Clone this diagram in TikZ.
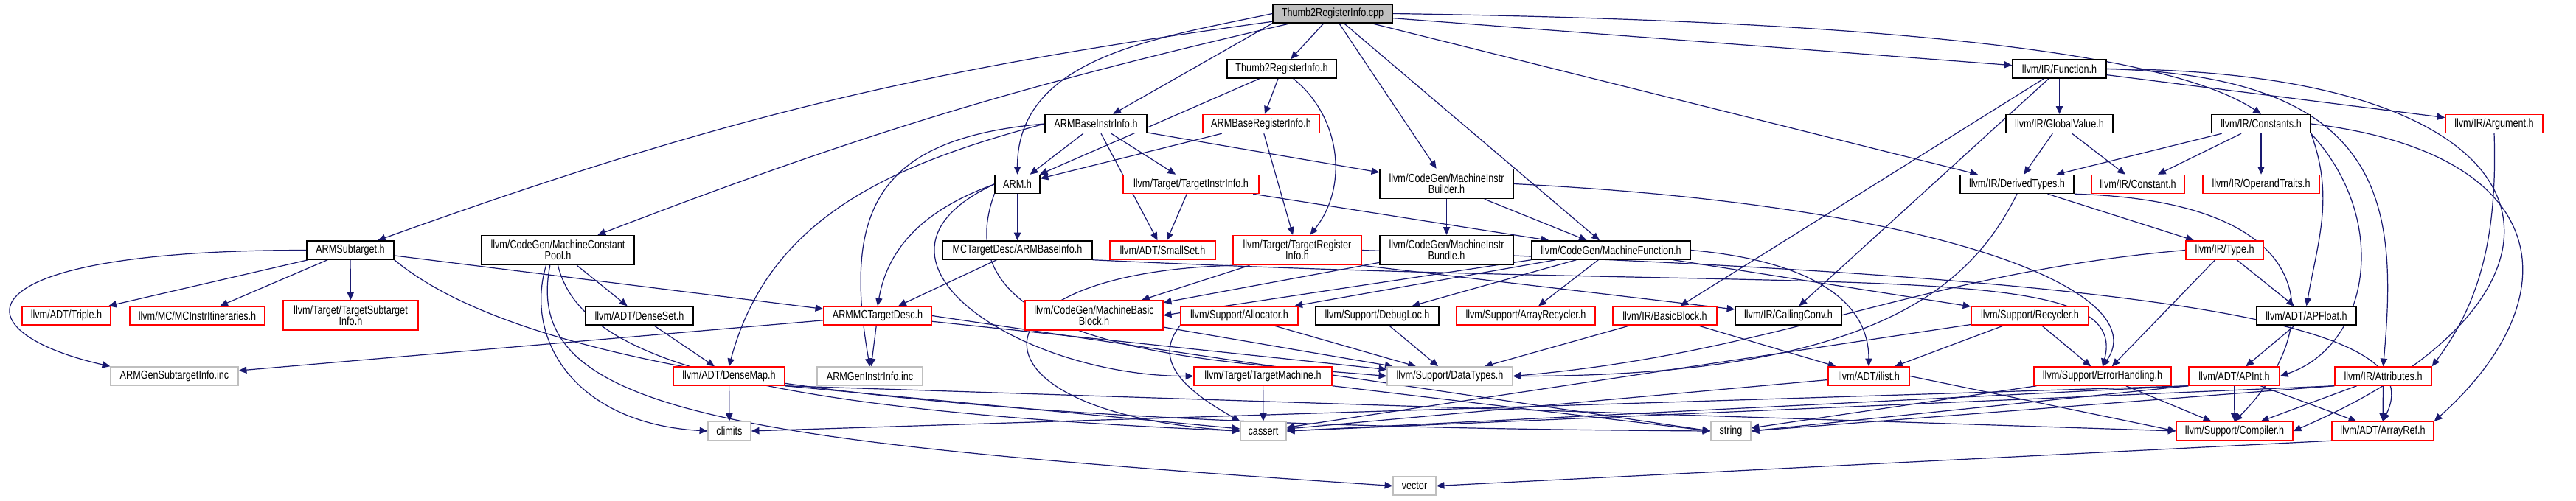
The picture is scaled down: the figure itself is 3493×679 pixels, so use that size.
\documentclass[tikz,border=0pt]{standalone}
\usepackage{fontspec}
\setmainfont{Liberation Sans}[FakeStretch=0.79]
\usepackage{tikz}
\usetikzlibrary{arrows.meta}
\definecolor{edgeblue}{RGB}{25,25,112}
\definecolor{hdrred}{RGB}{255,0,0}
\definecolor{sysgrey}{RGB}{191,191,191}
\definecolor{rootfill}{RGB}{191,191,191}
\pgfdeclarelayer{edges}
\pgfsetlayers{edges,main}
\tikzset{
  hdr/.style={rectangle, draw=black, fill=white, line width=1.1pt, align=center,
    minimum height=18.75pt, inner xsep=2pt, inner ysep=1pt,
    font=\fontsize{12pt}{11.5pt}\selectfont},
  redhdr/.style={hdr, draw=hdrred},
  syshdr/.style={hdr, draw=sysgrey},
  roothdr/.style={hdr, fill=rootfill},
  wd/.style={minimum width=#1*0.75pt},
  tall/.style={minimum height=30pt},
  dep/.style={-{Triangle[length=8pt,width=7pt]}, line width=0.9pt, color=edgeblue}
}

\begin{document}
\begin{tikzpicture}[x=0.75pt, y=-0.75pt]
  \useasboundingbox (0,0) rectangle (3493,679);
  \node[roothdr, wd=162] (root) at (1807,18.5) {Thumb2RegisterInfo.cpp};
  \node[hdr, wd=148] (t2h) at (1738,93.5) {Thumb2RegisterInfo.h};
  \node[hdr, wd=127] (func) at (2792.5,93.5) {llvm/IR/Function.h};
  \node[hdr, wd=138] (abii) at (1486,168) {ARMBaseInstrInfo.h};
  \node[redhdr, wd=158] (abri) at (1710,168) {ARMBaseRegisterInfo.h};
  \node[hdr, wd=145] (gv) at (2792.5,168) {llvm/IR/GlobalValue.h};
  \node[hdr, wd=134] (consts) at (3066,168) {llvm/IR/Constants.h};
  \node[redhdr, wd=132] (arg) at (3382,168) {llvm/IR/Argument.h};
  \node[hdr, wd=61] (arm) at (1379.5,250) {ARM.h};
  \node[redhdr, wd=184] (tii) at (1615,250) {llvm/Target/TargetInstrInfo.h};
  \node[hdr, wd=181, tall] (mib) at (1961.5,249.5) {llvm/CodeGen/MachineInstr\\Builder.h};
  \node[hdr, wd=154] (dt) at (2735,250) {llvm/IR/DerivedTypes.h};
  \node[redhdr, wd=126] (const) at (2899,250) {llvm/IR/Constant.h};
  \node[redhdr, wd=158] (ot) at (3066,250) {llvm/IR/OperandTraits.h};
  \node[hdr, wd=118] (sub) at (475,339.5) {ARMSubtarget.h};
  \node[hdr, wd=207, tall] (mcp) at (756.5,339.5) {llvm/CodeGen/MachineConstant\\Pool.h};
  \node[hdr, wd=203] (abi) at (1379.5,339.5) {MCTargetDesc/ARMBaseInfo.h};
  \node[redhdr, wd=143] (sset) at (1576.5,339.5) {llvm/ADT/SmallSet.h};
  \node[redhdr, wd=174, tall] (tri) at (1759,339.5) {llvm/Target/TargetRegister\\Info.h};
  \node[hdr, wd=181, tall] (mibun) at (1961.5,339.5) {llvm/CodeGen/MachineInstr\\Bundle.h};
  \node[hdr, wd=215] (mf) at (2184.5,339.5) {llvm/CodeGen/MachineFunction.h};
  \node[redhdr, wd=105] (type) at (3016.5,339.5) {llvm/IR/Type.h};
  \node[redhdr, wd=120] (triple) at (90,428.5) {llvm/ADT/Triple.h};
  \node[redhdr, wd=183] (itin) at (267.5,428.5) {llvm/MC/MCInstrItineraries.h};
  \node[redhdr, wd=183, tall] (tsi) at (475.5,428) {llvm/Target/TargetSubtarget\\Info.h};
  \node[hdr, wd=146] (dset) at (867,428.5) {llvm/ADT/DenseSet.h};
  \node[redhdr, wd=146] (mctd) at (1190,428.5) {ARMMCTargetDesc.h};
  \node[redhdr, wd=187, tall] (mbb) at (1483.5,428) {llvm/CodeGen/MachineBasic\\Block.h};
  \node[redhdr, wd=159] (alloc) at (1680.5,428.5) {llvm/Support/Allocator.h};
  \node[hdr, wd=167] (dloc) at (1867.5,428.5) {llvm/Support/DebugLoc.h};
  \node[redhdr, wd=188] (arec) at (2069,428.5) {llvm/Support/ArrayRecycler.h};
  \node[redhdr, wd=141] (bb) at (2257.5,428.5) {llvm/IR/BasicBlock.h};
  \node[hdr, wd=144] (cc) at (2425,428.5) {llvm/IR/CallingConv.h};
  \node[redhdr, wd=159] (recyc) at (2752.5,428.5) {llvm/Support/Recycler.h};
  \node[hdr, wd=135] (apf) at (3127.5,428.5) {llvm/ADT/APFloat.h};
  \node[syshdr, wd=173] (gsi) at (236.5,510.5) {ARMGenSubtargetInfo.inc};
  \node[redhdr, wd=151] (dmap) at (988.5,510.5) {llvm/ADT/DenseMap.h};
  \node[syshdr, wd=143] (gii) at (1179.5,510.5) {ARMGenInstrInfo.inc};
  \node[redhdr, wd=187] (tm) at (1712.5,510.5) {llvm/Target/TargetMachine.h};
  \node[syshdr, wd=170] (dtypes) at (1966,510.5) {llvm/Support/DataTypes.h};
  \node[redhdr, wd=110] (ilist) at (2534,510.5) {llvm/ADT/ilist.h};
  \node[redhdr, wd=186] (err) at (2851,510.5) {llvm/Support/ErrorHandling.h};
  \node[redhdr, wd=123] (apint) at (3029.5,510.5) {llvm/ADT/APInt.h};
  \node[redhdr, wd=131] (attr) at (3231.5,510.5) {llvm/IR/Attributes.h};
  \node[syshdr, wd=58] (climits) at (989,585) {climits};
  \node[syshdr, wd=62] (cassert) at (1713,585) {cassert};
  \node[syshdr, wd=54] (string) at (2347,585) {string};
  \node[redhdr, wd=158] (comp) at (3030,585) {llvm/Support/Compiler.h};
  \node[redhdr, wd=138] (aref) at (3231,585) {llvm/ADT/ArrayRef.h};
  \node[syshdr, wd=58] (vector) at (1918,659.5) {vector};
  \begin{pgfonlayer}{edges}
  \fill[white] (0,0) rectangle (3493,679);
  \draw[dep] (root) to[bend right=6] (sub);
  \draw[dep] (root) to[bend right=4] (mcp);
  \draw[dep] (root.west) to[out=192,in=90] (arm.north);
  \draw[dep] (root.south west) -- (abii);
  \draw[dep] (root) -- (t2h);
  \draw[dep] (root) -- (mib);
  \draw[dep] (root) -- (mf);
  \draw[dep] (root.east) .. controls +(700,10) and +(-120,-80) .. (consts.north);
  \draw[dep] (root) -- (func);
  \draw[dep] (root) -- (dt);
  \draw[dep] (t2h) -- (arm);
  \draw[dep] (t2h) -- (abri);
  \draw[dep] (t2h) to[bend left=45] (tri);
  \draw[dep] (abri) -- (arm);
  \draw[dep] (abri) -- (tri);
  \draw[dep] (abii) -- (arm);
  \draw[dep] (abii) -- (sset);
  \draw[dep] (abii) -- (tii);
  \draw[dep] (abii) -- (mib);
  \draw[dep] (abii.west) to[out=195,in=75] (dmap.north);
  \draw[dep] (abii.west) to[out=185,in=100,looseness=1.4] (gii.north);
  \draw[dep] (arm) -- (abi);
  \draw[dep] (arm.west) to[out=200,in=80] (mctd.north);
  \draw[dep] (arm.west) to[out=205,in=180,looseness=1.6] (tm.west);
  \draw[dep] (arm.south west) to[out=250,in=175] (dtypes.west);
  \draw[dep] (tii) -- (sset);
  \draw[dep] (tii) -- (mf);
  \draw[dep] (mib) -- (mibun);
  \draw[dep] (mib) -- (mf);
  \draw[dep] (mib.east) .. controls +(598,30) and +(69,-98) .. (err.north);
  \draw[dep] (func) -- (gv);
  \draw[dep] (func) -- (cc);
  \draw[dep] (func) -- (bb);
  \draw[dep] (func) -- (arg);
  \draw[dep] (func.east) .. controls +(380,10) and +(20,-220) .. (attr.north);
  \draw[dep] (func.east) .. controls +(644,2) and +(431,-185) .. (comp.east);
  \draw[dep] (gv) -- (dt);
  \draw[dep] (gv) -- (const);
  \draw[dep] (consts) -- (dt);
  \draw[dep] (consts) -- (const);
  \draw[dep] (consts) -- (ot);
  \draw[dep] (consts.south east) to[out=-70,in=80] (apf.north);
  \draw[dep] (consts.south east) .. controls +(110,120) and +(120,-40) .. (apint.east);
  \draw[dep] (consts.east) .. controls +(330,40) and +(190,-170) .. (aref.north east);
  \draw[dep] (dt) -- (type);
  \draw[dep] (dt.south east) .. controls +(350,10) and +(120,-120) .. (comp.north);
  \draw[dep] (dt.south) .. controls +(-60,120) and +(500,0) .. (dtypes.east);
  \draw[dep] (arg.south) .. controls +(5,150) and +(60,-80) .. (attr.north east);
  \draw[dep] (sub.west) .. controls +(-476,0) and +(-210,-48) .. (gsi.north west);
  \draw[dep] (sub) -- (triple);
  \draw[dep] (sub) -- (itin);
  \draw[dep] (sub) -- (tsi);
  \draw[dep] (sub) -- (mctd);
  \draw[dep] (sub.south east) .. controls +(226,188) and +(-820,-5) .. (string.west);
  \draw[dep] (mcp) -- (dset);
  \draw[dep] ([xshift=-12pt]mcp.south) .. controls +(-30,100) and +(-180,-10) .. (climits.west);
  \draw[dep] (mcp.south) .. controls +(30,120) and +(-700,-30) .. (cassert.west);
  \draw[dep] ([xshift=-8pt]mcp.south) .. controls +(-40,200) and +(-900,-60) .. (vector.west);
  \draw[dep] (abi) -- (mctd);
  \draw[dep] (abi.south east) .. controls +(1019,48) and +(40,-150) .. (err.north);
  \draw[dep] (tri) -- (mbb);
  \draw[dep] (tri.south east) -- (cc);
  \draw[dep] (tri.south west) .. controls +(-372,11) and +(-382,-25) .. (cassert.west);
  \draw[dep] (tri.east) .. controls +(1200,40) and +(60,-120) .. (aref.north);
  \draw[dep] (mibun) -- (mbb);
  \draw[dep] (mf.south west) -- (mbb.east);
  \draw[dep] (mf) -- (alloc);
  \draw[dep] (mf) -- (dloc);
  \draw[dep] (mf) -- (arec);
  \draw[dep] (mf) -- (recyc);
  \draw[dep] (mf.east) to[out=-5,in=90] (ilist.north);
  \draw[dep] (type) -- (apf);
  \draw[dep] (type) -- (err);
  \draw[dep] (type.west) to[out=185,in=5] (dtypes.east);
  \draw[dep] (dset) -- (dmap);
  \draw[dep] (mctd) -- (gii);
  \draw[dep] (mctd) -- (gsi);
  \draw[dep] (mctd) -- (dtypes);
  \draw[dep] (mctd.east) -- (string.west);
  \draw[dep] (mbb) -- (dtypes);
  \draw[dep] (alloc) -- (dtypes);
  \draw[dep] (alloc.south west) .. controls +(-40,50) and +(-70,-40) .. (cassert.north west);
  \draw[dep] (dloc) -- (dtypes);
  \draw[dep] (bb) -- (dtypes);
  \draw[dep] (bb) -- (ilist);
  \draw[dep] (recyc) -- (err);
  \draw[dep] (recyc) -- (ilist);
  \draw[dep] (recyc) -- (cassert);
  \draw[dep] (apf) -- (apint);
  \draw[dep] (dmap) -- (climits);
  \draw[dep] (dmap.south east) -- (cassert);
  \draw[dep] (dmap.south east) -- (comp.west);
  \draw[dep] (tm) -- (cassert);
  \draw[dep] (tm.south east) -- (string.west);
  \draw[dep] (ilist) -- (cassert);
  \draw[dep] (ilist.east) -- (comp.west);
  \draw[dep] (err) -- (comp);
  \draw[dep] (err) -- (string);
  \draw[dep] (apint) -- (comp);
  \draw[dep] (apint) -- (aref);
  \draw[dep] (apint.south west) -- (climits.east);
  \draw[dep] (apint.south west) -- (cassert.east);
  \draw[dep] (apint.south west) -- (string.east);
  \draw[dep] (attr) -- (aref);
  \draw[dep] (attr) -- (comp);
  \draw[dep] (attr.south west) -- (cassert.east);
  \draw[dep] (attr.south west) -- (string.east);
  \draw[dep] (aref.south west) -- (vector.east);
  \end{pgfonlayer}
\end{tikzpicture}
\end{document}
